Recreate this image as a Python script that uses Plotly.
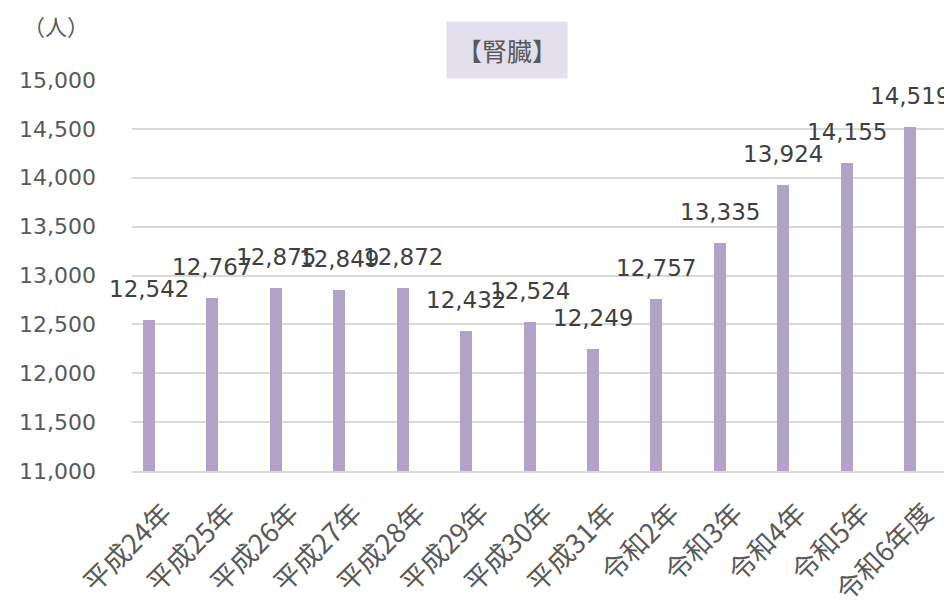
import plotly.graph_objects as go

categories = ["平成24年", "平成25年", "平成26年", "平成27年", "平成28年", "平成29年",
              "平成30年", "平成31年", "令和2年", "令和3年", "令和4年", "令和5年", "令和6年度"]
values = [12542, 12767, 12875, 12849, 12872, 12432, 12524, 12249, 12757, 13335, 13924, 14155, 14519]
y_ticks = [11000, 11500, 12000, 12500, 13000, 13500, 14000, 14500, 15000]
y_tick_labels = [f"{v:,}" for v in y_ticks]
title_text = "【腎臓】"
unit_text = "（人）"

FONT = "DejaVu Sans, Noto Sans CJK JP"
CJK = "Noto Sans CJK JP"
GREY = "#595959"

# page body has an 8px offset; compensate
W, H = 944, 594
L, T = 124, 72
PH = 391
B = H - T - PH
PW = W - L

fig = go.Figure()
fig.add_trace(go.Bar(
    x=list(range(len(categories))), y=values,
    marker=dict(color="#B3A2C7", line=dict(width=0)),
    width=0.19,
    hoverinfo="skip",
))

for i, v in enumerate(values):
    fig.add_annotation(x=i, y=v, text=f"{v:,}", showarrow=False,
                       yshift=31, yanchor="middle", xanchor="center",
                       font=dict(family=FONT, size=23, color="#404040"))

fig.add_annotation(xref="paper", yref="paper", x=(499 - 124) / PW, y=1 + (72 - 42) / PH,
                   text=title_text, showarrow=False, xanchor="center", yanchor="middle",
                   bgcolor="#E4DFEC", borderpad=10,
                   font=dict(family=CJK, size=25, color=GREY))

fig.add_annotation(xref="paper", yref="paper", x=(48 - 124) / PW, y=1 + (72 - 17) / PH,
                   text=unit_text, showarrow=False, xanchor="center", yanchor="middle",
                   font=dict(family=CJK, size=22, color=GREY))

fig.update_layout(
    width=W, height=H,
    margin=dict(l=L, r=0, t=T, b=B, autoexpand=False),
    paper_bgcolor="white", plot_bgcolor="white",
    showlegend=False,
    bargap=0,
    xaxis=dict(
        range=[-0.268, 12.66],
        tickmode="array", tickvals=list(range(len(categories))), ticktext=categories,
        tickangle=-45, showgrid=False, zeroline=False,
        showline=True, linecolor="#D9D9D9", linewidth=1.5,
        ticks="", tickfont=dict(family=CJK, size=27, color=GREY),
        ticklabelshift=15, ticklabelstandoff=14,
        automargin=False,
    ),
    yaxis=dict(
        range=[11000, 15000],
        tickmode="array", tickvals=y_ticks, ticktext=y_tick_labels,
        showgrid=True, gridcolor="#D9D9D9", gridwidth=1.5,
        zeroline=False, showline=False, ticks="",
        ticklabelstandoff=35, automargin=False,
        tickfont=dict(family=FONT, size=22, color=GREY),
    ),
)

fig.write_html("out.html")
